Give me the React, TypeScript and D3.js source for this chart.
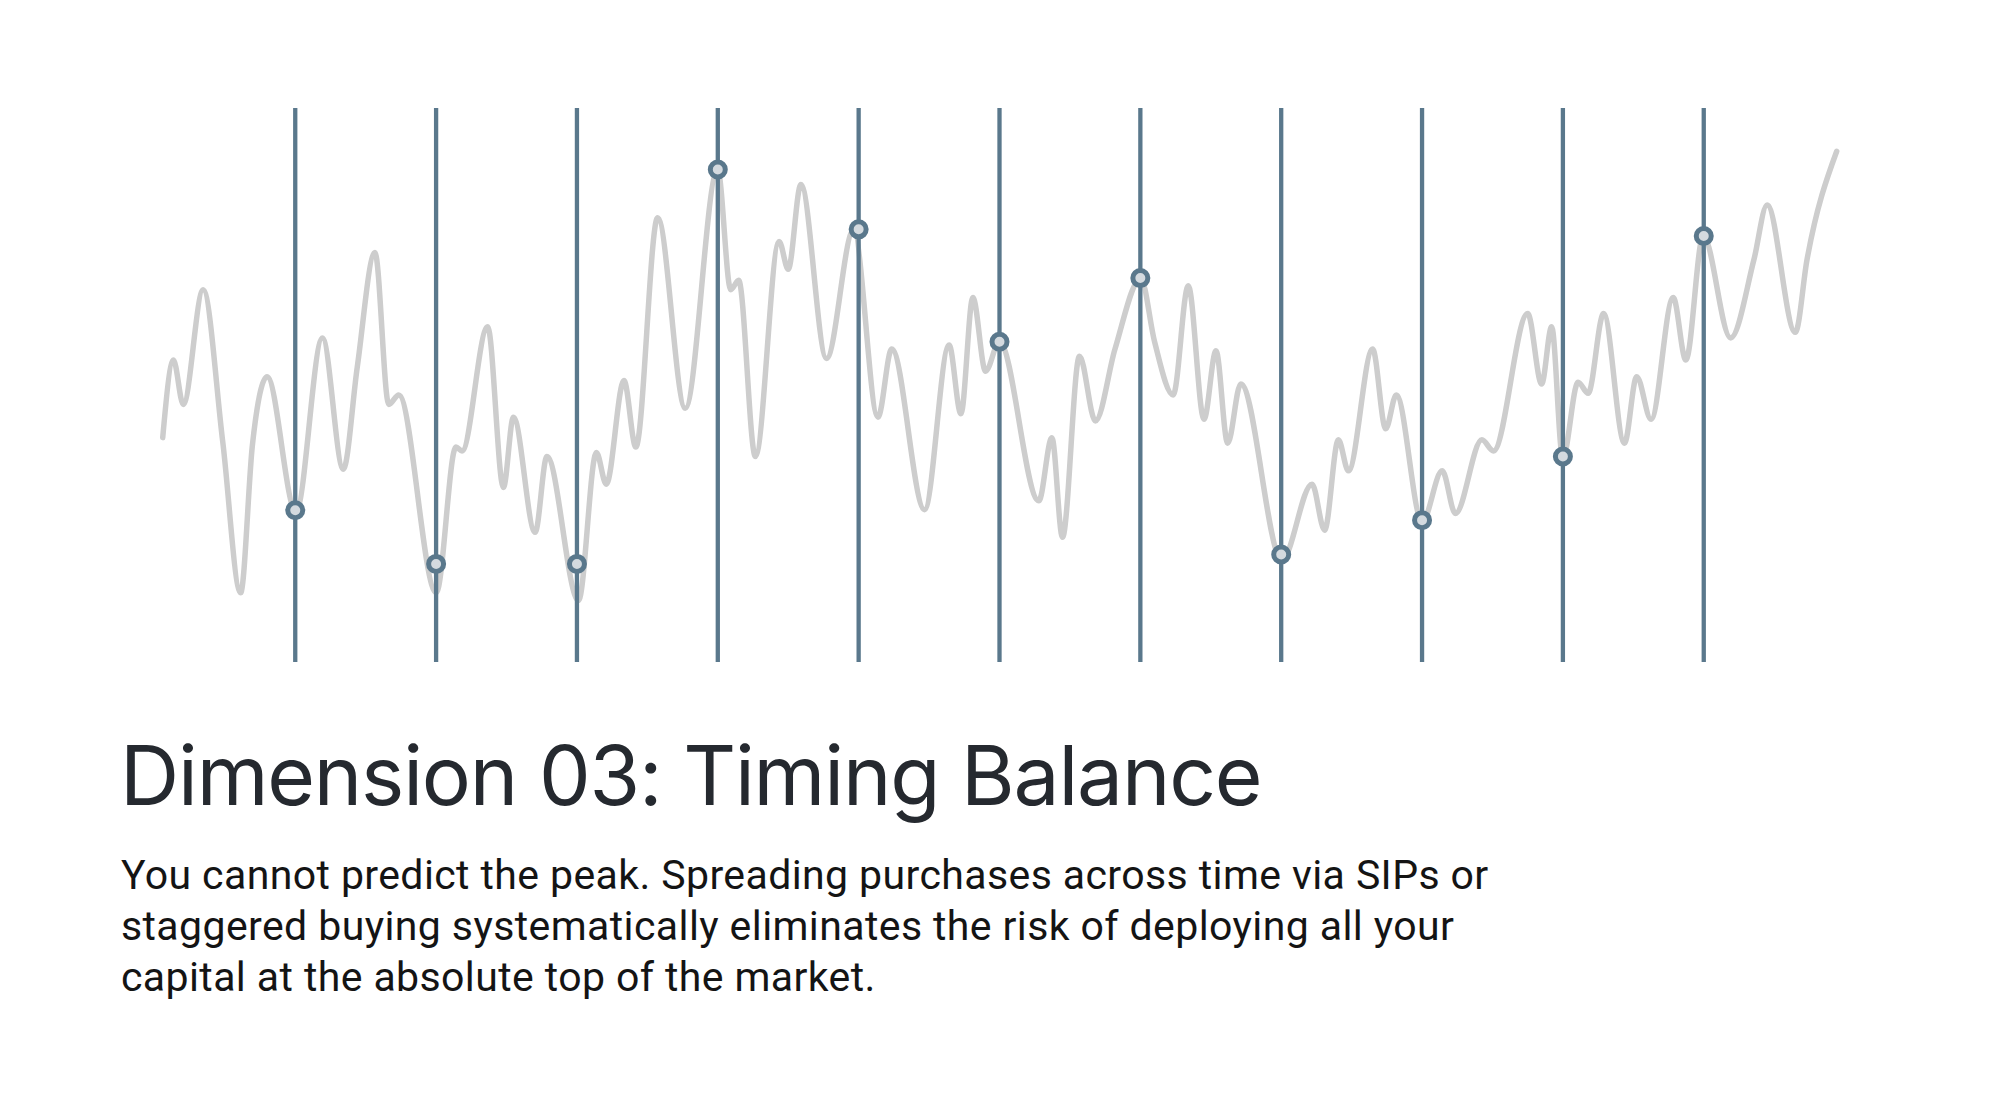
import React from "react";
import * as d3 from "d3";

// Price path: [time (purchase periods), price index]
const priceT = [0.059,0.135,0.205,0.346,0.485,0.612,0.696,0.8,1.005,1.193,1.341,1.44,1.566,1.664,1.735,2.001,2.141,2.184,2.366,2.478,2.549,2.703,2.787,3.011,3.138,3.208,3.334,3.418,3.573,3.769,3.999,4.092,4.148,4.267,4.435,4.5,4.59,4.772,4.964,5.137,5.235,5.468,5.642,5.726,5.811,5.901,5.999,6.279,6.372,6.447,6.568,6.681,6.82,7.003,7.101,7.233,7.34,7.452,7.537,7.62,7.713,8.005,8.219,8.308,8.406,8.477,8.649,8.742,8.817,9.001,9.143,9.237,9.425,9.507,9.75,9.849,9.92,9.999,10.108,10.179,10.289,10.437,10.524,10.626,10.783,10.873,10.996,11.191,11.356,11.45,11.65,11.733,11.944];
const priceV = [40.5,54.5,46.5,67.2,39.8,12.5,39.2,51.5,27.1,58.5,34.8,53.2,73.9,46.5,48.2,12.5,38.8,38.1,60.5,31.5,44.2,23.4,37.1,11.1,37.8,32.1,50.8,38.8,80.2,45.8,88.9,67.2,68.9,37.1,75.9,70.9,86.2,54.8,78.0,44.2,56.5,27.5,57.2,44.8,65.8,52.5,57.8,29.1,40.5,22.5,55.2,43.5,56.5,69.2,57.8,48.2,67.9,43.8,56.2,39.5,50.2,18.4,32.1,23.8,40.1,34.5,56.5,42.1,48.2,25.3,34.5,26.8,40.1,38.1,62.9,50.2,60.5,36.8,50.5,48.5,62.9,39.5,51.5,43.8,65.8,54.5,76.9,58.5,72.6,82.5,59.5,72.6,92.2];

// Staggered purchases (SIP dates) and the price paid
const purchaseT = [1,2,3,4,5,6,7,8,9,10,11];
const purchaseV = [27.4,17.7,17.7,88.9,78.1,57.8,69.3,19.4,25.6,37.1,76.9];

const titleText = "Dimension 03: Timing Balance";
const bodyLines = [
  "You cannot predict the peak. Spreading purchases across time via SIPs or",
  "staggered buying systematically eliminates the risk of deploying all your",
  "capital at the absolute top of the market.",
];

const W = 1999;
const H = 1116;

export default function App() {
  const x = d3.scaleLinear().domain([0, 12]).range([154.4, 1844.6]);
  const y = d3.scaleLinear().domain([0, 100]).range([662, 108]);
  const pts: [number, number][] = priceT.map((t, i) => [t, priceV[i]]);
  const line = d3
    .line<[number, number]>()
    .x((d) => x(d[0]))
    .y((d) => y(d[1]))
    .curve(d3.curveMonotoneX);
  const accent = "#5a788c";
  return (
    <svg
      width={W}
      height={H}
      viewBox={`0 0 ${W} ${H}`}
      style={{ position: "absolute", left: 0, top: 0, background: "#ffffff" }}
    >
      <rect x={0} y={0} width={W} height={H} fill="#ffffff" />
      <path d={line(pts) || ""} fill="none" stroke="#cdcdcd" strokeWidth={5.5} strokeLinejoin="round" strokeLinecap="round" />
      {purchaseT.map((t, i) => (
        <line key={"v" + i} x1={x(t)} x2={x(t)} y1={y(100)} y2={y(0)} stroke={accent} strokeWidth={4.3} />
      ))}
      {purchaseT.map((t, i) => (
        <circle key={"c" + i} cx={x(t)} cy={y(purchaseV[i])} r={7.5} fill="#d4dadf" stroke={accent} strokeWidth={5} />
      ))}
      <text x={120} y={805} fontFamily="Inter, 'Noto Sans', sans-serif" fontSize={82} fill="#25292f" letterSpacing={-1.2}>
        {titleText}
      </text>
      {bodyLines.map((l, i) => (
        <text key={i} x={121} y={889 + i * 51} fontFamily="Roboto, sans-serif" fontSize={41} fill="#141414" letterSpacing={0.4}>
          {l}
        </text>
      ))}
    </svg>
  );
}
